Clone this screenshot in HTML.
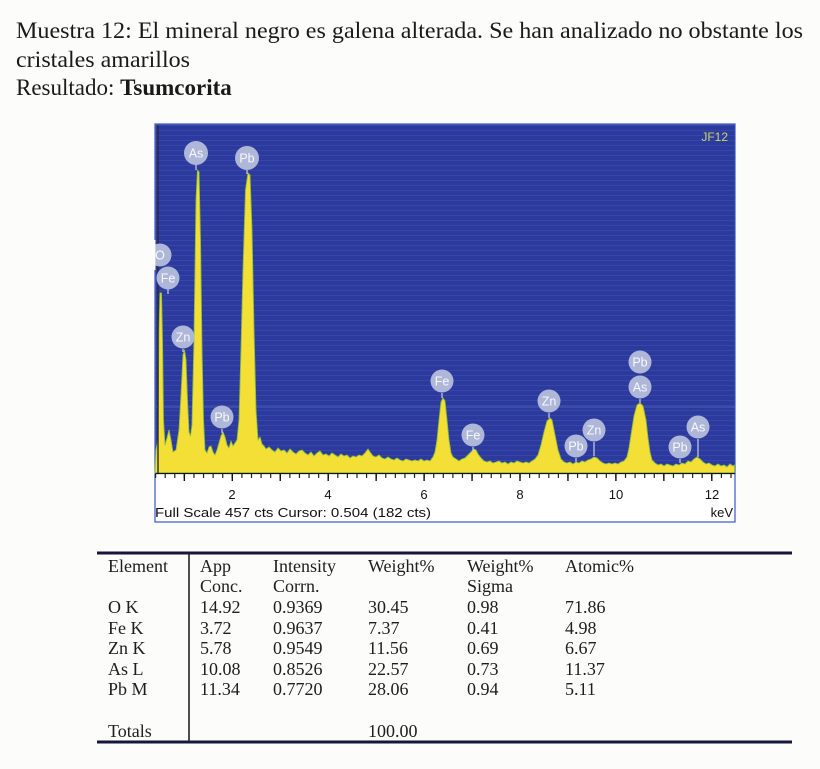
<!DOCTYPE html>
<html><head><meta charset="utf-8"><style>
html,body{margin:0;padding:0;background:#fcfcfa;}
svg{display:block;}
.h{font-family:"Liberation Serif",serif;font-size:23px;fill:#1a1a1a;}
.t{font-family:"Liberation Serif",serif;font-size:18px;fill:#1e1e1e;}
.a{font-family:"Liberation Sans",sans-serif;font-size:13px;fill:#111;}
.lb{font-family:"Liberation Sans",sans-serif;font-size:12.5px;fill:#f6f8ff;text-anchor:middle;}
</style></head><body>
<svg width="820" height="769" viewBox="0 0 820 769" xmlns="http://www.w3.org/2000/svg">
<defs>
<pattern id="scan" width="10" height="5" patternUnits="userSpaceOnUse">
<rect width="10" height="1" fill="#4a5cb8" opacity="0.35"/>
</pattern>
</defs>
<rect width="820" height="769" fill="#fcfcfa"/>
<!-- header -->
<text class="h" x="16" y="38" textLength="787" lengthAdjust="spacingAndGlyphs">Muestra 12: El mineral negro es galena alterada. Se han analizado no obstante los</text>
<text class="h" x="16" y="67" textLength="174" lengthAdjust="spacingAndGlyphs">cristales amarillos</text>
<text class="h" x="16" y="95">Resultado: <tspan font-weight="bold">Tsumcorita</tspan></text>

<!-- chart frame -->
<rect x="155" y="124" width="580" height="398" fill="#ffffff" stroke="#3a58c8" stroke-width="1.2"/>
<rect x="155.6" y="124.6" width="579" height="348.4" fill="#2c3a9e"/>
<rect x="155.6" y="124.6" width="579" height="348.4" fill="url(#scan)"/>
<line x1="156" y1="407" x2="735" y2="407" stroke="#6fa0d8" stroke-width="1" opacity="0.35"/>
<text x="728" y="141" font-family="Liberation Sans, sans-serif" font-size="12" fill="#c9d86a" text-anchor="end">JF12</text>

<!-- spectrum -->
<path fill="#f4df36" stroke="#8fbf3a" stroke-width="0.9" stroke-linejoin="round" d="M155,473 L156,450 L158,440 L159,330 L160,293 L161.5,293 L162.5,340 L163.5,420 L165,445 L167,438 L169,430 L171,440 L173,452 L176,450 L179,430 L181,395 L183,355 L184.5,350 L186,360 L187.5,400 L189,432 L190.5,436 L192,425 L194,340 L196,200 L197.5,170 L199,172 L200.5,240 L202,350 L203.5,420 L205,450 L207,453 L209,447 L211,446 L213,452 L215,455 L217,450 L219,443 L221,436 L223,432 L225,437 L227,445 L229,448 L231,441 L233,446 L235,443 L237,440 L239,420 L241,350 L243,270 L245.5,190 L248,173 L250,175 L252,230 L254,330 L256,410 L258,440 L260,437 L262,444 L264,446 L266,449 L269,447 L272,450 L275,452 L278,448 L281,451 L284,450 L287,453 L290,449 L293,452 L296,454 L299,451 L302,450 L305,453 L308,455 L311,452 L314,456 L317,453 L320,451 L323,455 L326,454 L329,456 L332,453 L335,455 L338,457 L341,454 L344,456 L347,455 L350,458 L353,456 L356,457 L359,455 L362,456 L365,453 L368,449 L370,452 L373,456 L376,457 L379,455 L382,458 L385,459 L388,457 L391,459 L394,460 L397,458 L400,460 L403,461 L406,459 L409,460 L412,461 L415,460 L418,461 L421,459 L424,461 L427,460 L430,461 L433,457 L435,452 L437,440 L439,420 L441,402 L443,398 L445,401 L447,420 L449,440 L451,453 L453,457 L456,459 L459,461 L462,459 L465,458 L468,455 L471,452 L474,449 L476,450 L478,454 L481,458 L484,461 L487,462 L490,461 L493,463 L496,462 L499,461 L502,463 L505,462 L508,464 L511,462 L514,463 L517,461 L520,462 L523,463 L526,462 L529,463 L532,461 L535,459 L538,455 L541,445 L544,432 L547,421 L550,418 L552,420 L555,435 L558,450 L561,459 L564,462 L567,463 L570,462 L573,464 L576,462 L579,463 L582,461 L585,462 L588,460 L591,459 L594,457 L597,458 L600,461 L603,463 L606,464 L609,463 L612,464 L615,463 L618,464 L621,462 L624,461 L627,457 L629,448 L631,435 L634,416 L637,405 L640,403 L643,406 L646,420 L648,438 L650,452 L652,460 L655,463 L658,465 L661,464 L664,466 L667,464 L670,465 L673,466 L676,464 L679,465 L682,463 L685,464 L688,461 L691,462 L694,459 L697,457 L700,459 L703,462 L706,464 L709,463 L712,465 L715,466 L718,464 L721,466 L724,465 L727,467 L730,464 L733,466 L734.5,465 L734.5,473 Z"/>
<line x1="158" y1="125" x2="158" y2="473" stroke="#2a2c30" stroke-width="1.4"/>

<!-- peak labels -->
<g stroke="#c8d0ea" stroke-width="1.2">
<line x1="168" y1="289" x2="168" y2="294"/>
<line x1="196" y1="165" x2="196" y2="170"/>
<line x1="247" y1="170" x2="247" y2="174"/>
<line x1="183" y1="349" x2="183" y2="352"/>
<line x1="222" y1="429" x2="222" y2="433"/>
<line x1="442" y1="393" x2="442" y2="398"/>
<line x1="473" y1="447" x2="473" y2="452"/>
<line x1="549" y1="413" x2="549" y2="418"/>
<line x1="576" y1="458" x2="576" y2="462"/>
<line x1="594" y1="442" x2="594" y2="456"/>
<line x1="640" y1="399" x2="640" y2="403"/>
<line x1="680" y1="459" x2="680" y2="463"/>
<line x1="698" y1="439" x2="698" y2="457"/>
</g>
<g fill="#aeb7d8">
<circle cx="160" cy="255" r="11.5"/>
<circle cx="168" cy="278" r="11.5"/>
<circle cx="196" cy="153" r="12"/>
<circle cx="247" cy="158" r="12"/>
<circle cx="183" cy="337" r="11.5"/>
<circle cx="222" cy="417" r="11.5"/>
<circle cx="442" cy="381" r="11.5"/>
<circle cx="473" cy="435" r="11.5"/>
<circle cx="549" cy="401" r="11.5"/>
<circle cx="576" cy="446" r="11.5"/>
<circle cx="594" cy="430" r="11.5"/>
<circle cx="640" cy="362" r="11.5"/>
<circle cx="640" cy="387" r="11.5"/>
<circle cx="680" cy="447" r="11.5"/>
<circle cx="698" cy="427" r="11.5"/>
</g>
<rect x="140" y="240" width="15.4" height="30" fill="#fcfcfa"/>
<g>
<text class="lb" x="160" y="259.5">O</text>
<text class="lb" x="168" y="282.5">Fe</text>
<text class="lb" x="196" y="157.5">As</text>
<text class="lb" x="247" y="162.5">Pb</text>
<text class="lb" x="183" y="341.5">Zn</text>
<text class="lb" x="222" y="421.5">Pb</text>
<text class="lb" x="442" y="385.5">Fe</text>
<text class="lb" x="473" y="439.5">Fe</text>
<text class="lb" x="549" y="405.5">Zn</text>
<text class="lb" x="576" y="450.5">Pb</text>
<text class="lb" x="594" y="434.5">Zn</text>
<text class="lb" x="640" y="366.5">Pb</text>
<text class="lb" x="640" y="391.5">As</text>
<text class="lb" x="680" y="451.5">Pb</text>
<text class="lb" x="698" y="431.5">As</text>
</g>

<!-- x axis -->
<line x1="155.5" y1="473.5" x2="735" y2="473.5" stroke="#111" stroke-width="1.3"/>
<line x1="155" y1="476" x2="735" y2="476" stroke="#222" stroke-width="4" stroke-dasharray="1.2 8.39" stroke-dashoffset="0"/>
<line x1="183.65" y1="477.5" x2="735" y2="477.5" stroke="#111" stroke-width="7" stroke-dasharray="1.4 46.55"/>
<g class="a" text-anchor="middle">
<text x="232" y="499">2</text>
<text x="328" y="499">4</text>
<text x="424" y="499">6</text>
<text x="520" y="499">8</text>
<text x="616" y="499">10</text>
<text x="712" y="499">12</text>
</g>
<text class="a" x="155" y="517" textLength="276" lengthAdjust="spacingAndGlyphs">Full Scale 457 cts Cursor: 0.504  (182 cts)</text>
<text class="a" x="733" y="517" text-anchor="end">keV</text>

<!-- table -->
<line x1="97" y1="553" x2="792" y2="553" stroke="#15163a" stroke-width="3"/>
<line x1="97" y1="742" x2="792" y2="742" stroke="#15163a" stroke-width="3"/>
<line x1="189" y1="553" x2="189" y2="742" stroke="#222" stroke-width="1.6"/>
<g class="t">
<text x="108" y="572">Element</text>
<text x="200" y="572">App</text>
<text x="273" y="572">Intensity</text>
<text x="368" y="572">Weight%</text>
<text x="467" y="572">Weight%</text>
<text x="565" y="572">Atomic%</text>
<text x="200" y="592">Conc.</text>
<text x="273" y="592">Corrn.</text>
<text x="467" y="592">Sigma</text>

<text x="108" y="613">O K</text><text x="200" y="613">14.92</text><text x="273" y="613">0.9369</text><text x="368" y="613">30.45</text><text x="467" y="613">0.98</text><text x="565" y="613">71.86</text>
<text x="108" y="634">Fe K</text><text x="200" y="634">3.72</text><text x="273" y="634">0.9637</text><text x="368" y="634">7.37</text><text x="467" y="634">0.41</text><text x="565" y="634">4.98</text>
<text x="108" y="654">Zn K</text><text x="200" y="654">5.78</text><text x="273" y="654">0.9549</text><text x="368" y="654">11.56</text><text x="467" y="654">0.69</text><text x="565" y="654">6.67</text>
<text x="108" y="675">As L</text><text x="200" y="675">10.08</text><text x="273" y="675">0.8526</text><text x="368" y="675">22.57</text><text x="467" y="675">0.73</text><text x="565" y="675">11.37</text>
<text x="108" y="695">Pb M</text><text x="200" y="695">11.34</text><text x="273" y="695">0.7720</text><text x="368" y="695">28.06</text><text x="467" y="695">0.94</text><text x="565" y="695">5.11</text>
<text x="108" y="737">Totals</text><text x="368" y="737">100.00</text>
</g>
</svg>
</body></html>
